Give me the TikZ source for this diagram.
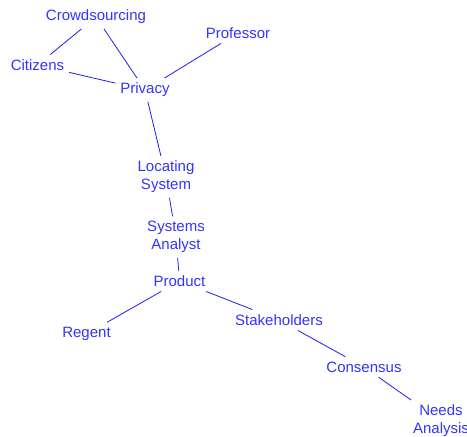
\documentclass[tikz,border=0pt]{standalone}
\usepackage{fontspec}
\setmainfont{Liberation Sans}
\usetikzlibrary{positioning}
\definecolor{termblue}{RGB}{51,51,255}
\definecolor{linkblue}{RGB}{30,30,235}

\begin{document}
\begin{tikzpicture}[
    x=0.75pt, y=-0.75pt,
    term/.style={text=termblue, font=\fontsize{11.25}{13.5}\selectfont, align=center, inner sep=3.5pt},
    link/.style={draw=linkblue, line width=0.6pt}
]
    \useasboundingbox (0,0) rectangle (467,436);

    % Concepts
    \node[term] (crowd) at (96,17) {Crowdsourcing};
    \node[term] (citizens) at (37.5,65) {Citizens};
    \node[term] (professor) at (238,33) {Professor};
    \node[term] (privacy) at (145,90) {Privacy};
    \node[term] (locating) at (166,177) {Locating\\System};
    \node[term] (analyst) at (176,237) {Systems\\Analyst};
    \node[term] (product) at (179.5,281) {Product};
    \node[term] (regent) at (86.5,334) {Regent};
    \node[term] (stake) at (279,320) {Stakeholders};
    \node[term] (consensus) at (364,367) {Consensus};
    \node[term] (needs) at (441,421) {Needs\\Analysis};

    % Links
    \draw[link] (crowd) -- (citizens);
    \draw[link] (crowd) -- (privacy);
    \draw[link] (citizens) -- (privacy);
    \draw[link] (professor) -- (privacy);
    \draw[link] (privacy) -- (locating);
    \draw[link] (locating) -- (analyst);
    \draw[link] (analyst) -- (product);
    \draw[link] (product) -- (regent);
    \draw[link] (product) -- (stake);
    \draw[link] (stake) -- (consensus);
    \draw[link] (consensus) -- (needs);
\end{tikzpicture}
\end{document}
